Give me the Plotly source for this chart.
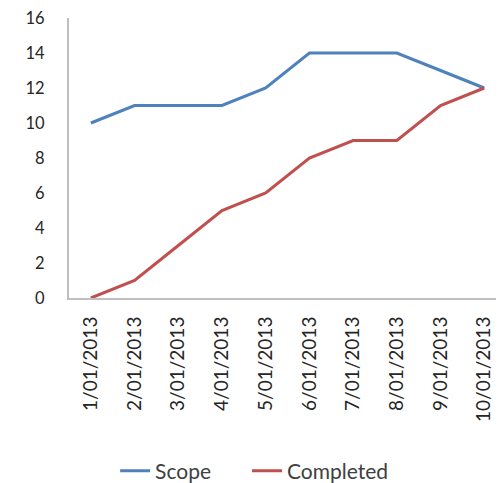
import plotly.graph_objects as go

dates = ["1/01/2013", "2/01/2013", "3/01/2013", "4/01/2013", "5/01/2013",
         "6/01/2013", "7/01/2013", "8/01/2013", "9/01/2013", "10/01/2013"]
scope = [10, 11, 11, 11, 12, 14, 14, 14, 13, 12]
completed = [0, 1, 3, 5, 6, 8, 9, 9, 11, 12]

fig = go.Figure()
fig.add_trace(go.Scatter(x=dates, y=scope, mode="lines", name="Scope",
                         line=dict(color="#4F81BD", width=3), legend="legend"))
fig.add_trace(go.Scatter(x=dates, y=completed, mode="lines", name="Completed",
                         line=dict(color="#C0504D", width=3), legend="legend2"))

font = dict(family="Lato, Open Sans, sans-serif", size=17, color="#404040")
leg_common = dict(orientation="h", xanchor="left", y=-0.618, yanchor="middle",
                  font=dict(size=21, color="#404040"), bgcolor="rgba(0,0,0,0)")
fig.update_layout(
    width=504, height=483,
    margin=dict(l=61, r=12, t=10, b=193, autoexpand=False),
    paper_bgcolor="white", plot_bgcolor="white",
    font=font,
    showlegend=True,
    legend=dict(x=0.107, **leg_common),
    legend2=dict(x=0.413, **leg_common),
    xaxis=dict(type="category", range=[-0.5, 9.36], tickangle=-90, automargin=False,
               showline=True, linecolor="#BFBFBF", linewidth=2, showgrid=False,
               ticks="", tickfont=dict(size=19, color="#262626"), ticklabelstandoff=9),
    yaxis=dict(range=[0, 16], dtick=2, showline=True, linecolor="#BFBFBF", linewidth=2,
               showgrid=False, zeroline=False, ticks="", ticklabelstandoff=19,
               ticklabeloverflow="allow", automargin=False,
               tickfont=dict(size=16.5, color="#262626")),
)
fig.write_html("out.html")
